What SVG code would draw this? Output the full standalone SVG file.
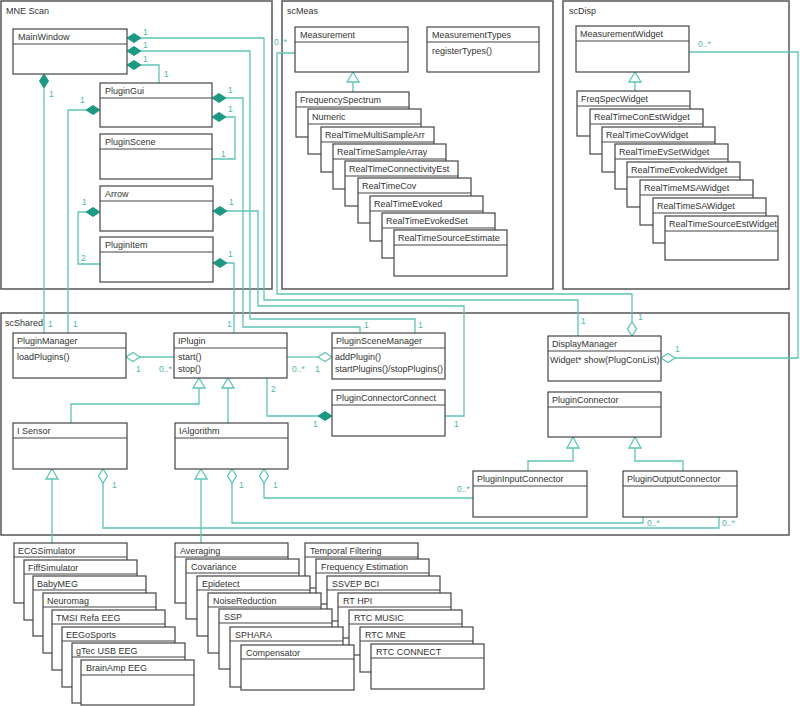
<svg xmlns="http://www.w3.org/2000/svg" width="800" height="706" viewBox="0 0 800 706">
<style>
.pkg{fill:none;stroke:#555;stroke-width:1.5}
.box{fill:#fff;stroke:#444;stroke-width:1.2}
.hd{stroke:#444;stroke-width:1.1}
.t{font-family:"Liberation Sans",Arial,sans-serif;font-size:9px;fill:#333}
.c{fill:none;stroke:#5ec4b6;stroke-width:1.3}
.fd{fill:#1d9983;stroke:#1d9983;stroke-width:1}
.od{fill:#fff;stroke:#5ec4b6;stroke-width:1.3}
.lb{font-family:"Liberation Sans",Arial,sans-serif;font-size:8.5px;fill:#4bb8a6}
</style>
<rect x="0" y="0" width="800" height="706" fill="#fff"/>
<g id="packages">
<rect class="pkg" x="1" y="1" width="271" height="288"/><text class="t" x="6" y="14">MNE Scan</text>
<rect class="pkg" x="282" y="1" width="271" height="288"/><text class="t" x="287" y="14">scMeas</text>
<rect class="pkg" x="563" y="1" width="226" height="288"/><text class="t" x="569" y="14">scDisp</text>
<rect class="pkg" x="1" y="313" width="788" height="222"/><text class="t" x="5" y="326">scShared</text>
</g>
<g id="connectors">
<path class="c" d="M141,38 H264 V300 H578 V336"/>
<path class="c" d="M141,51 H250 V319 H415 V333"/>
<path class="c" d="M141,65 H159 V83"/>
<path class="c" d="M44,88 V333"/>
<path class="c" d="M86,110 H68 V333"/>
<path class="c" d="M226,98 H243 V327 H360 V333"/>
<path class="c" d="M226,117 H235 V159 H212"/>
<path class="c" d="M86,212 H78 V264 H100"/>
<path class="c" d="M227,211 H258 V306 H464 V416 H445"/>
<path class="c" d="M227,263 H234 V333"/>
<path class="c" d="M295,53 H277 V294 H632 V322"/>
<path class="c" d="M689,52 H798 V358 H675"/>
<path class="c" d="M140,357 H174"/>
<path class="c" d="M287,357 H318"/>
<path class="c" d="M267,378 V416 H318"/>
<path class="c" d="M199,388 V404 H71 V423"/>
<path class="c" d="M228,388 V423"/>
<path class="c" d="M573,448 V461 H528 V471"/>
<path class="c" d="M635,448 V461 H683 V471"/>
<path class="c" d="M264,483 V498 H473"/>
<path class="c" d="M232,483 V523 H643 V517"/>
<path class="c" d="M103,483 V528 H719 V517"/>
<path class="c" d="M52,479 V543"/>
<path class="c" d="M201,479 V543"/>
<path class="c" d="M353,82 V92"/>
<path class="c" d="M635,82 V91"/>
<polygon class="fd" points="127,38 134,33.5 141,38 134,42.5"/>
<polygon class="fd" points="127,51 134,46.5 141,51 134,55.5"/>
<polygon class="fd" points="127,65 134,60.5 141,65 134,69.5"/>
<polygon class="fd" points="44,74 48.5,81 44,88 39.5,81"/>
<polygon class="fd" points="100,110 93,105.5 86,110 93,114.5"/>
<polygon class="fd" points="212,98 219,93.5 226,98 219,102.5"/>
<polygon class="fd" points="212,117 219,112.5 226,117 219,121.5"/>
<polygon class="fd" points="100,212 93,207.5 86,212 93,216.5"/>
<polygon class="fd" points="213,211 220,206.5 227,211 220,215.5"/>
<polygon class="fd" points="213,263 220,258.5 227,263 220,267.5"/>
<polygon class="fd" points="332,416 325,411.5 318,416 325,420.5"/>
<polygon class="od" points="632,336 636.5,329 632,322 627.5,329"/>
<polygon class="od" points="661,358 668,353.5 675,358 668,362.5"/>
<polygon class="od" points="126,357 133,352.5 140,357 133,361.5"/>
<polygon class="od" points="332,357 325,352.5 318,357 325,361.5"/>
<polygon class="od" points="264,469 268.5,476 264,483 259.5,476"/>
<polygon class="od" points="232,469 236.5,476 232,483 227.5,476"/>
<polygon class="od" points="103,469 107.5,476 103,483 98.5,476"/>
<polygon class="od" points="353,72 347,82 359,82"/>
<polygon class="od" points="635,72 629,82 641,82"/>
<polygon class="od" points="199,378 193,388 205,388"/>
<polygon class="od" points="228,378 222,388 234,388"/>
<polygon class="od" points="573,437 567,448 579,448"/>
<polygon class="od" points="635,437 629,448 641,448"/>
<polygon class="od" points="52,469 46,479 58,479"/>
<polygon class="od" points="201,469 195,479 207,479"/>
<text class="lb" x="143" y="35">1</text>
<text class="lb" x="143" y="48">1</text>
<text class="lb" x="143" y="62">1</text>
<text class="lb" x="164" y="77">1</text>
<text class="lb" x="49" y="97">1</text>
<text class="lb" x="80" y="103">1</text>
<text class="lb" x="228" y="93">1</text>
<text class="lb" x="228" y="112">1</text>
<text class="lb" x="221" y="157">1</text>
<text class="lb" x="82" y="205">1</text>
<text class="lb" x="81" y="261">2</text>
<text class="lb" x="229" y="205">1</text>
<text class="lb" x="228" y="257">1</text>
<text class="lb" x="274" y="45">0..*</text>
<text class="lb" x="698" y="47">0..*</text>
<text class="lb" x="48" y="327">1</text>
<text class="lb" x="73" y="327">1</text>
<text class="lb" x="227" y="327">1</text>
<text class="lb" x="364" y="328">1</text>
<text class="lb" x="418" y="328">1</text>
<text class="lb" x="581" y="324">1</text>
<text class="lb" x="638" y="320">1</text>
<text class="lb" x="675" y="352">1</text>
<text class="lb" x="136" y="372">1</text>
<text class="lb" x="159" y="372">0..*</text>
<text class="lb" x="292" y="372">0..*</text>
<text class="lb" x="315" y="372">1</text>
<text class="lb" x="271" y="392">2</text>
<text class="lb" x="313" y="427">1</text>
<text class="lb" x="454" y="427">1</text>
<text class="lb" x="112" y="488">1</text>
<text class="lb" x="239" y="488">1</text>
<text class="lb" x="273" y="488">1</text>
<text class="lb" x="457" y="492">0..*</text>
<text class="lb" x="647" y="526">0..*</text>
<text class="lb" x="722" y="526">0..*</text>
</g>
<g id="MainWindow"><rect class="box" x="13" y="29" width="114" height="45"/><line class="hd" x1="13" y1="44" x2="127" y2="44"/><text class="t" x="18" y="40">MainWindow</text></g>
<g id="PluginGui"><rect class="box" x="100" y="83" width="112" height="44"/><line class="hd" x1="100" y1="98" x2="212" y2="98"/><text class="t" x="105" y="94">PluginGui</text></g>
<g id="PluginScene"><rect class="box" x="100" y="134" width="112" height="45"/><line class="hd" x1="100" y1="149" x2="212" y2="149"/><text class="t" x="105" y="145">PluginScene</text></g>
<g id="Arrow"><rect class="box" x="100" y="186" width="113" height="45"/><line class="hd" x1="100" y1="201" x2="213" y2="201"/><text class="t" x="105" y="197">Arrow</text></g>
<g id="PluginItem"><rect class="box" x="100" y="237" width="113" height="45"/><line class="hd" x1="100" y1="252" x2="213" y2="252"/><text class="t" x="105" y="248">PluginItem</text></g>
<g id="Measurement"><rect class="box" x="295" y="27" width="113" height="45"/><line class="hd" x1="295" y1="42" x2="408" y2="42"/><text class="t" x="300" y="38">Measurement</text></g>
<g id="MeasurementTypes"><rect class="box" x="427" y="27" width="112" height="45"/><line class="hd" x1="427" y1="42" x2="539" y2="42"/><text class="t" x="432" y="38">MeasurementTypes</text><text class="t" x="432" y="54">registerTypes()</text></g>
<g id="FrequencySpectrum"><rect class="box" x="296" y="92" width="113" height="45"/><line class="hd" x1="296" y1="107" x2="409" y2="107"/><text class="t" x="300" y="103">FrequencySpectrum</text></g>
<g id="Numeric"><rect class="box" x="308" y="109" width="113" height="45"/><line class="hd" x1="308" y1="124" x2="421" y2="124"/><text class="t" x="312" y="120">Numeric</text></g>
<g id="RealTimeMultiSampleArr"><rect class="box" x="321" y="127" width="113" height="45"/><line class="hd" x1="321" y1="142" x2="434" y2="142"/><text class="t" x="325" y="138">RealTimeMultiSampleArr</text></g>
<g id="RealTimeSampleArray"><rect class="box" x="333" y="144" width="113" height="45"/><line class="hd" x1="333" y1="159" x2="446" y2="159"/><text class="t" x="337" y="155">RealTimeSampleArray</text></g>
<g id="RealTimeConnectivityEst"><rect class="box" x="345" y="161" width="113" height="45"/><line class="hd" x1="345" y1="176" x2="458" y2="176"/><text class="t" x="349" y="172">RealTimeConnectivityEst</text></g>
<g id="RealTimeCov"><rect class="box" x="358" y="178" width="113" height="45"/><line class="hd" x1="358" y1="193" x2="471" y2="193"/><text class="t" x="362" y="189">RealTimeCov</text></g>
<g id="RealTimeEvoked"><rect class="box" x="370" y="196" width="113" height="45"/><line class="hd" x1="370" y1="211" x2="483" y2="211"/><text class="t" x="374" y="207">RealTimeEvoked</text></g>
<g id="RealTimeEvokedSet"><rect class="box" x="382" y="213" width="113" height="45"/><line class="hd" x1="382" y1="228" x2="495" y2="228"/><text class="t" x="386" y="224">RealTimeEvokedSet</text></g>
<g id="RealTimeSourceEstimate"><rect class="box" x="394" y="230" width="113" height="46"/><line class="hd" x1="394" y1="245" x2="507" y2="245"/><text class="t" x="398" y="241">RealTimeSourceEstimate</text></g>
<g id="MeasurementWidget"><rect class="box" x="576" y="26" width="113" height="46"/><line class="hd" x1="576" y1="41" x2="689" y2="41"/><text class="t" x="580" y="37">MeasurementWidget</text></g>
<g id="FreqSpecWidget"><rect class="box" x="577" y="91" width="113" height="45"/><line class="hd" x1="577" y1="106" x2="690" y2="106"/><text class="t" x="581" y="102">FreqSpecWidget</text></g>
<g id="RealTimeConEstWidget"><rect class="box" x="590" y="109" width="113" height="45"/><line class="hd" x1="590" y1="124" x2="703" y2="124"/><text class="t" x="594" y="120">RealTimeConEstWidget</text></g>
<g id="RealTimeCovWidget"><rect class="box" x="602" y="127" width="113" height="45"/><line class="hd" x1="602" y1="142" x2="715" y2="142"/><text class="t" x="606" y="138">RealTimeCovWidget</text></g>
<g id="RealTimeEvSetWidget"><rect class="box" x="615" y="144" width="113" height="45"/><line class="hd" x1="615" y1="159" x2="728" y2="159"/><text class="t" x="619" y="155">RealTimeEvSetWidget</text></g>
<g id="RealTimeEvokedWidget"><rect class="box" x="627" y="162" width="113" height="45"/><line class="hd" x1="627" y1="177" x2="740" y2="177"/><text class="t" x="631" y="173">RealTimeEvokedWidget</text></g>
<g id="RealTimeMSAWidget"><rect class="box" x="640" y="180" width="113" height="45"/><line class="hd" x1="640" y1="195" x2="753" y2="195"/><text class="t" x="644" y="191">RealTimeMSAWidget</text></g>
<g id="RealTimeSAWidget"><rect class="box" x="653" y="198" width="113" height="45"/><line class="hd" x1="653" y1="213" x2="766" y2="213"/><text class="t" x="657" y="209">RealTimeSAWidget</text></g>
<g id="RealTimeSourceEstWidget"><rect class="box" x="665" y="216" width="113" height="44"/><line class="hd" x1="665" y1="231" x2="778" y2="231"/><text class="t" x="669" y="227">RealTimeSourceEstWidget</text></g>
<g id="PluginManager"><rect class="box" x="13" y="333" width="113" height="45"/><line class="hd" x1="13" y1="348" x2="126" y2="348"/><text class="t" x="17" y="344">PluginManager</text><text class="t" x="17" y="360">loadPlugins()</text></g>
<g id="IPlugin"><rect class="box" x="174" y="333" width="113" height="45"/><line class="hd" x1="174" y1="348" x2="287" y2="348"/><text class="t" x="178" y="344">IPlugin</text><text class="t" x="178" y="360">start()</text><text class="t" x="178" y="372">stop()</text></g>
<g id="PluginSceneManager"><rect class="box" x="332" y="333" width="113" height="46"/><line class="hd" x1="332" y1="348" x2="445" y2="348"/><text class="t" x="336" y="344">PluginSceneManager</text><text class="t" x="335" y="360">addPlugin()</text><text class="t" x="335" y="372">startPlugins()/stopPlugins()</text></g>
<g id="PluginConnectorConnect"><rect class="box" x="332" y="390" width="113" height="46"/><line class="hd" x1="332" y1="405" x2="445" y2="405"/><text class="t" x="336" y="401">PluginConnectorConnect</text></g>
<g id="ISensor"><rect class="box" x="13" y="423" width="114" height="46"/><line class="hd" x1="13" y1="438" x2="127" y2="438"/><text class="t" x="17" y="434">I Sensor</text></g>
<g id="IAlgorithm"><rect class="box" x="175" y="423" width="113" height="46"/><line class="hd" x1="175" y1="438" x2="288" y2="438"/><text class="t" x="179" y="434">IAlgorithm</text></g>
<g id="DisplayManager"><rect class="box" x="548" y="336" width="113" height="45"/><line class="hd" x1="548" y1="351" x2="661" y2="351"/><text class="t" x="552" y="347">DisplayManager</text><text class="t" x="550" y="363">Widget* show(PlugConList)</text></g>
<g id="PluginConnector"><rect class="box" x="548" y="392" width="113" height="45"/><line class="hd" x1="548" y1="407" x2="661" y2="407"/><text class="t" x="552" y="403">PluginConnector</text></g>
<g id="PluginInputConnector"><rect class="box" x="473" y="471" width="114" height="46"/><line class="hd" x1="473" y1="486" x2="587" y2="486"/><text class="t" x="477" y="482">PluginInputConnector</text></g>
<g id="PluginOutputConnector"><rect class="box" x="623" y="471" width="114" height="46"/><line class="hd" x1="623" y1="486" x2="737" y2="486"/><text class="t" x="627" y="482">PluginOutputConnector</text></g>
<g id="TemporalFiltering"><rect class="box" x="305" y="543" width="113" height="45"/><line class="hd" x1="305" y1="557" x2="418" y2="557"/><text class="t" x="310" y="554">Temporal Filtering</text></g>
<g id="FrequencyEstimation"><rect class="box" x="316" y="559" width="113" height="45"/><line class="hd" x1="316" y1="573" x2="429" y2="573"/><text class="t" x="321" y="570">Frequency Estimation</text></g>
<g id="SSVEPBCI"><rect class="box" x="327" y="576" width="113" height="45"/><line class="hd" x1="327" y1="590" x2="440" y2="590"/><text class="t" x="332" y="587">SSVEP BCI</text></g>
<g id="RTHPI"><rect class="box" x="338" y="593" width="113" height="45"/><line class="hd" x1="338" y1="607" x2="451" y2="607"/><text class="t" x="343" y="604">RT HPI</text></g>
<g id="RTCMUSIC"><rect class="box" x="349" y="610" width="113" height="45"/><line class="hd" x1="349" y1="624" x2="462" y2="624"/><text class="t" x="354" y="621">RTC MUSIC</text></g>
<g id="RTCMNE"><rect class="box" x="360" y="627" width="113" height="45"/><line class="hd" x1="360" y1="641" x2="473" y2="641"/><text class="t" x="365" y="638">RTC MNE</text></g>
<g id="RTCCONNECT"><rect class="box" x="371" y="644" width="113" height="45"/><line class="hd" x1="371" y1="658" x2="484" y2="658"/><text class="t" x="376" y="655">RTC CONNECT</text></g>
<g id="Averaging"><rect class="box" x="175" y="543" width="113" height="60"/><line class="hd" x1="175" y1="557" x2="288" y2="557"/><text class="t" x="180" y="554">Averaging</text></g>
<g id="Covariance"><rect class="box" x="186" y="559" width="113" height="60"/><line class="hd" x1="186" y1="573" x2="299" y2="573"/><text class="t" x="191" y="570">Covariance</text></g>
<g id="Epidetect"><rect class="box" x="197" y="576" width="113" height="60"/><line class="hd" x1="197" y1="590" x2="310" y2="590"/><text class="t" x="202" y="587">Epidetect</text></g>
<g id="NoiseReduction"><rect class="box" x="208" y="593" width="113" height="60"/><line class="hd" x1="208" y1="607" x2="321" y2="607"/><text class="t" x="213" y="604">NoiseReduction</text></g>
<g id="SSP"><rect class="box" x="219" y="609" width="113" height="60"/><line class="hd" x1="219" y1="623" x2="332" y2="623"/><text class="t" x="224" y="620">SSP</text></g>
<g id="SPHARA"><rect class="box" x="230" y="627" width="113" height="60"/><line class="hd" x1="230" y1="641" x2="343" y2="641"/><text class="t" x="235" y="638">SPHARA</text></g>
<g id="Compensator"><rect class="box" x="241" y="645" width="113" height="45"/><line class="hd" x1="241" y1="659" x2="354" y2="659"/><text class="t" x="246" y="656">Compensator</text></g>
<g id="ECGSimulator"><rect class="box" x="14" y="543" width="113" height="60"/><line class="hd" x1="14" y1="557" x2="127" y2="557"/><text class="t" x="18" y="554">ECGSimulator</text></g>
<g id="FiffSimulator"><rect class="box" x="24" y="560" width="113" height="60"/><line class="hd" x1="24" y1="574" x2="137" y2="574"/><text class="t" x="28" y="571">FiffSimulator</text></g>
<g id="BabyMEG"><rect class="box" x="33" y="576" width="113" height="60"/><line class="hd" x1="33" y1="590" x2="146" y2="590"/><text class="t" x="37" y="587">BabyMEG</text></g>
<g id="Neuromag"><rect class="box" x="43" y="593" width="113" height="60"/><line class="hd" x1="43" y1="607" x2="156" y2="607"/><text class="t" x="47" y="604">Neuromag</text></g>
<g id="TMSIRefaEEG"><rect class="box" x="52" y="610" width="113" height="60"/><line class="hd" x1="52" y1="624" x2="165" y2="624"/><text class="t" x="56" y="621">TMSI Refa EEG</text></g>
<g id="EEGoSports"><rect class="box" x="62" y="627" width="113" height="60"/><line class="hd" x1="62" y1="641" x2="175" y2="641"/><text class="t" x="66" y="638">EEGoSports</text></g>
<g id="gTecUSBEEG"><rect class="box" x="72" y="643" width="113" height="60"/><line class="hd" x1="72" y1="657" x2="185" y2="657"/><text class="t" x="76" y="654">gTec USB EEG</text></g>
<g id="BrainAmpEEG"><rect class="box" x="81" y="660" width="113" height="45"/><line class="hd" x1="81" y1="675" x2="194" y2="675"/><text class="t" x="86" y="671">BrainAmp EEG</text></g>
</svg>
